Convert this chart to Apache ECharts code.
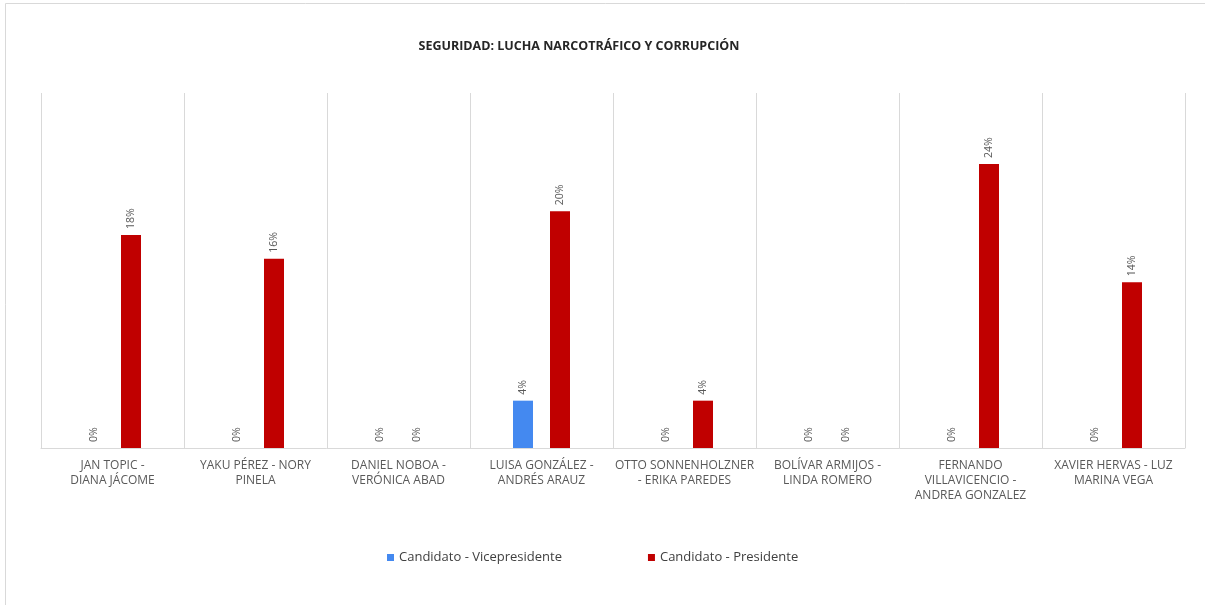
<!DOCTYPE html>
<html><head><meta charset="utf-8">
<script src="https://cdn.jsdelivr.net/npm/echarts@6/dist/echarts.min.js"></script>
<style>html,body{margin:0;padding:0;background:#fff}#c{width:1205px;height:605px}</style>
</head><body><div id="c"></div>
<script>
const categories = [
  "JAN TOPIC -\nDIANA JÁCOME",
  "YAKU PÉREZ - NORY\nPINELA",
  "DANIEL NOBOA -\nVERÓNICA ABAD",
  "LUISA GONZÁLEZ -\nANDRÉS ARAUZ",
  "OTTO SONNENHOLZNER\n- ERIKA PAREDES",
  "BOLÍVAR ARMIJOS -\nLINDA ROMERO",
  "FERNANDO\nVILLAVICENCIO -\nANDREA GONZALEZ",
  "XAVIER HERVAS - LUZ\nMARINA VEGA"
];
const vicepresidente = [0, 0, 0, 4, 0, 0, 0, 0];
const presidente = [18, 16, 0, 20, 4, 0, 24, 14];
const seriesNames = ["Candidato - Vicepresidente", "Candidato - Presidente"];
const titleText = "SEGURIDAD: LUCHA NARCOTRÁFICO Y CORRUPCIÓN";

const font = "'Open Sans', 'Liberation Sans', sans-serif";
const chart = echarts.init(document.getElementById('c'));
const labelCfg = {
  show: true, position: 'top', rotate: 90, align: 'left', verticalAlign: 'middle',
  distance: 6, formatter: p => p.value + '%', color: '#595959', fontSize: 10.5, fontFamily: font
};
chart.setOption({
  animation: false,
  graphic: [{
    type: 'rect', shape: { x: 5.5, y: 3.5, width: 1300, height: 700 },
    style: { fill: 'none', stroke: '#d9d9d9', lineWidth: 1 }, silent: true
  }],
  title: {
    text: titleText, left: 574, top: 35, textAlign: 'center',
    textStyle: { fontSize: 12.5, fontWeight: 'bold', color: '#262626', fontFamily: font }
  },
  legend: {
    data: seriesNames, left: 382, top: 546, itemWidth: 7, itemHeight: 7, icon: 'rect',
    itemGap: 86, textStyle: { color: '#404040', fontSize: 13, fontFamily: font }
  },
  grid: { left: 41, right: 20, top: 93, bottom: 157 },
  xAxis: {
    type: 'category', data: categories,
    axisLine: { lineStyle: { color: '#d9d9d9' } },
    axisTick: { show: false },
    splitLine: { show: true, lineStyle: { color: '#d9d9d9' } },
    axisLabel: { color: '#595959', fontSize: 12, lineHeight: 15, margin: 10, fontFamily: font, interval: 0 }
  },
  yAxis: { type: 'value', min: 0, max: 30, show: false, splitLine: { show: false } },
  series: [
    { name: seriesNames[0], type: 'bar', data: vicepresidente, barWidth: 20, barGap: '85%',
      itemStyle: { color: '#4489F0' }, label: labelCfg },
    { name: seriesNames[1], type: 'bar', data: presidente, barWidth: 20, barGap: '85%',
      itemStyle: { color: '#C00000' }, label: labelCfg }
  ]
});
</script></body></html>
